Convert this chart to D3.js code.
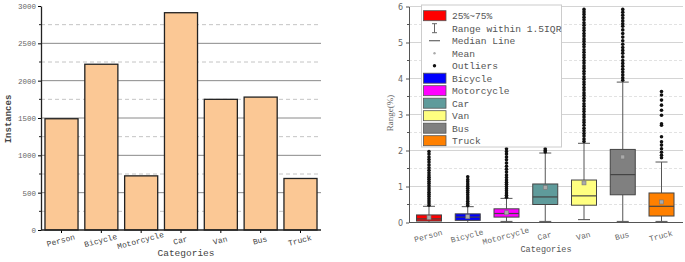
<!DOCTYPE html>
<html>
<head>
<meta charset="utf-8">
<script src="https://cdn.jsdelivr.net/npm/d3@7"></script>
<style>
  body { margin: 0; background: #fff; }
  svg { display: block; }
  text { font-family: "Liberation Mono", "DejaVu Sans Mono", monospace; }
</style>
</head>
<body>
<svg id="chart" width="685" height="262"></svg>
<script>
// ---- data ----
const categories = ["Person", "Bicycle", "Motorcycle", "Car", "Van", "Bus", "Truck"];
const instances = [1490, 2220, 725, 2910, 1750, 1780, 690];

const boxColors = ["#ff0000", "#0000ff", "#ff00ff", "#5f9b9b", "#ffff80", "#808080", "#ff8000"];
const whiskerLow = [0.0, 0.0, 0.03, 0.03, 0.08, 0.03, 0.03];
const q1 = [0.04, 0.06, 0.15, 0.5, 0.48, 0.77, 0.18];
const median = [0.1, 0.15, 0.25, 0.71, 0.74, 1.33, 0.45];
const q3 = [0.21, 0.24, 0.38, 1.07, 1.18, 2.03, 0.82];
const whiskerHigh = [0.45, 0.44, 0.67, 1.93, 2.2, 3.9, 1.68];
const means = [0.14, 0.16, 0.27, 0.97, 1.1, 1.82, 0.57];

const outPerson = [0.48, 0.54, 0.6, 0.66, 0.72, 0.78, 0.84, 0.9, 0.96, 1.02, 1.08, 1.14, 1.2, 1.26, 1.32, 1.38, 1.45, 1.52, 1.6, 1.68, 1.75, 1.82, 1.9, 1.97];
const outBicycle = [0.47, 0.53, 0.59, 0.65, 0.71, 0.77, 0.83, 0.89, 0.95, 1.01, 1.07, 1.13, 1.19, 1.27];
const outMotorcycle = [0.7, 0.76, 0.82, 0.88, 0.94, 1.0, 1.06, 1.12, 1.18, 1.25, 1.32, 1.4, 1.48, 1.56, 1.65, 1.74, 1.82, 1.9, 1.97, 2.05];
const outCar = [1.96, 2.0, 2.05];
const outVan = [2.25, 2.32, 2.4, 2.47, 2.55, 2.62, 2.7, 2.78, 2.85, 2.93, 3.0, 3.08, 3.15, 3.23, 3.3, 3.38, 3.45, 3.53, 3.6, 3.68, 3.75, 3.83, 3.9, 3.98, 4.05, 4.13, 4.2, 4.28, 4.35, 4.43, 4.5, 4.58, 4.65, 4.73, 4.8, 4.88, 4.95, 5.03, 5.1, 5.18, 5.25, 5.33, 5.4, 5.48, 5.55, 5.63, 5.7, 5.78, 5.85, 5.92];
const outBus = [3.95, 4.02, 4.1, 4.18, 4.26, 4.34, 4.42, 4.5, 4.6, 4.7, 4.78, 4.86, 4.95, 5.05, 5.15, 5.25, 5.35, 5.45, 5.52, 5.6, 5.68, 5.76, 5.84, 5.92];
const outTruck = [1.8, 1.87, 1.95, 2.05, 2.15, 2.24, 2.38, 2.7, 2.74, 2.98, 3.12, 3.26, 3.4, 3.54, 3.64];

const barTicks = [0, 500, 1000, 1500, 2000, 2500, 3000];
const barMinor = [250, 750, 1250, 1750, 2250, 2750];
const rangeTicks = [0, 1, 2, 3, 4, 5, 6];
const rangeMinor = [0.5, 1.5, 2.5, 3.5, 4.5, 5.5];

const legendLabels = ["25%~75%", "Range within 1.5IQR", "Median Line", "Mean", "Outliers",
  "Bicycle", "Motorcycle", "Car", "Van", "Bus", "Truck"];

const svg = d3.select("#chart");

// ================= left: bar chart =================
(function() {
  const x = d3.scaleBand().domain(categories).range([41, 321]).paddingInner(0.17).paddingOuter(0.1);
  const y = d3.scaleLinear().domain([0, 3000]).range([230, 6]);
  const g = svg.append("g");

  g.selectAll(".grid").data(barTicks.filter(d => d > 0 && d < 3000)).enter().append("line")
    .attr("x1", 41).attr("x2", 321).attr("y1", y).attr("y2", y)
    .attr("stroke", "#8a8a8a").attr("stroke-width", 1);
  g.selectAll(".gridm").data(barMinor).enter().append("line")
    .attr("x1", 41).attr("x2", 321).attr("y1", y).attr("y2", y)
    .attr("stroke", "#c4c4c4").attr("stroke-dasharray", "4,3");

  g.selectAll(".bar").data(instances).enter().append("rect")
    .attr("x", (d, i) => x(categories[i]))
    .attr("width", x.bandwidth())
    .attr("y", d => y(d))
    .attr("height", d => y(0) - y(d))
    .attr("fill", "#fbc895").attr("stroke", "#222").attr("stroke-width", 1.3);

  const yAxis = d3.axisLeft(y).tickValues(barTicks).tickFormat(d3.format("d")).tickSize(3).tickSizeOuter(0);
  const ya = g.append("g").attr("transform", "translate(41,0)").call(yAxis);
  ya.select(".domain").attr("stroke", "#222").attr("stroke-width", 1.3);
  ya.selectAll("text").attr("font-size", 7.5).attr("fill", "#666").attr("x", -5);
  g.selectAll(".ymin").data(barMinor).enter().append("line")
    .attr("x1", 39).attr("x2", 41).attr("y1", y).attr("y2", y).attr("stroke", "#222");

  const xAxis = d3.axisBottom(x).tickSize(3).tickSizeOuter(0);
  const xa = g.append("g").attr("transform", "translate(0,230)").call(xAxis);
  xa.select(".domain").remove();
  g.append("line").attr("x1", 41).attr("x2", 321).attr("y1", 230).attr("y2", 230)
    .attr("stroke", "#222").attr("stroke-width", 1.3);
  xa.selectAll("text").attr("font-size", 8).attr("fill", "#444")
    .attr("y", 0).attr("dy", 0)
    .attr("transform", "translate(0,13) rotate(-15)");

  g.append("text").attr("x", 186).attr("y", 256).attr("text-anchor", "middle")
    .attr("font-size", 9.5).attr("fill", "#444").text("Categories");
  g.append("text").attr("transform", "translate(11,119) rotate(-90)").attr("text-anchor", "middle")
    .attr("font-size", 9).attr("font-weight", "bold").attr("fill", "#444").text("Instances");
})();

// ================= right: box plot =================
(function() {
  const x = d3.scaleBand().domain(categories).range([409, 681.5]).paddingInner(0.355).paddingOuter(0.1935);
  const y = d3.scaleLinear().domain([0, 6]).range([222.5, 6.5]);
  const g = svg.append("g");
  const outliers = [outPerson, outBicycle, outMotorcycle, outCar, outVan, outBus, outTruck];

  g.selectAll(".grid").data(rangeTicks.filter(d => d > 0)).enter().append("line")
    .attr("x1", 409).attr("x2", 683).attr("y1", y).attr("y2", y)
    .attr("stroke", "#d4d4d4");
  g.selectAll(".gridm").data(rangeMinor).enter().append("line")
    .attr("x1", 409).attr("x2", 683).attr("y1", y).attr("y2", y)
    .attr("stroke", "#e2e2e2").attr("stroke-dasharray", "3,2");

  const cx = i => x(categories[i]) + x.bandwidth() / 2;
  const bw = x.bandwidth();

  // whiskers
  categories.forEach((c, i) => {
    const w = g.append("g").attr("stroke", "#555").attr("stroke-width", 1);
    w.append("line").attr("x1", cx(i)).attr("x2", cx(i)).attr("y1", y(whiskerLow[i])).attr("y2", y(q1[i]));
    w.append("line").attr("x1", cx(i)).attr("x2", cx(i)).attr("y1", y(q3[i])).attr("y2", y(whiskerHigh[i]));
    w.append("line").attr("x1", cx(i) - 6).attr("x2", cx(i) + 6).attr("y1", y(whiskerLow[i])).attr("y2", y(whiskerLow[i]));
    w.append("line").attr("x1", cx(i) - 6).attr("x2", cx(i) + 6).attr("y1", y(whiskerHigh[i])).attr("y2", y(whiskerHigh[i]));
  });

  // outliers
  outliers.forEach((arr, i) => {
    g.selectAll(".o" + i).data(arr).enter().append("circle")
      .attr("cx", cx(i)).attr("cy", d => y(d)).attr("r", 1.8).attr("fill", "#111");
  });

  // boxes
  g.selectAll(".box").data(categories).enter().append("rect")
    .attr("x", d => x(d)).attr("width", bw)
    .attr("y", (d, i) => y(q3[i])).attr("height", (d, i) => y(q1[i]) - y(q3[i]))
    .attr("fill", (d, i) => boxColors[i]).attr("stroke", "#444").attr("stroke-width", 1);
  g.selectAll(".med").data(median).enter().append("line")
    .attr("x1", (d, i) => x(categories[i])).attr("x2", (d, i) => x(categories[i]) + bw)
    .attr("y1", y).attr("y2", y).attr("stroke", "#444").attr("stroke-width", 1.2);
  g.selectAll(".mean").data(means).enter().append("rect")
    .attr("x", (d, i) => cx(i) - 2).attr("y", d => y(d) - 2).attr("width", 4).attr("height", 4)
    .attr("fill", "#aaa").attr("stroke", "#777").attr("stroke-width", 0.6);

  // axes
  const yAxis = d3.axisLeft(y).tickValues(rangeTicks).tickFormat(d3.format("d")).tickSize(3).tickSizeOuter(0);
  const ya = g.append("g").attr("transform", "translate(409,0)").call(yAxis);
  ya.select(".domain").attr("stroke", "#555");
  ya.selectAll(".tick line").attr("stroke", "#555");
  ya.selectAll("text").attr("font-size", 8).attr("fill", "#666").attr("x", -6)
    .style("font-family", "'DejaVu Sans', sans-serif");
  g.selectAll(".ymin").data(rangeMinor).enter().append("line")
    .attr("x1", 407).attr("x2", 409).attr("y1", y).attr("y2", y).attr("stroke", "#555");

  g.append("line").attr("x1", 409).attr("x2", 683).attr("y1", 222.5).attr("y2", 222.5)
    .attr("stroke", "#555").attr("stroke-width", 1);
  const xa = g.append("g").attr("transform", "translate(0,222.5)").call(d3.axisBottom(x).tickSize(0));
  xa.select(".domain").remove();
  xa.selectAll("text").attr("font-size", 8).attr("fill", "#666")
    .attr("y", 0).attr("dy", 0)
    .attr("transform", "translate(0,16) rotate(-15)");

  g.append("text").attr("x", 546).attr("y", 252).attr("text-anchor", "middle")
    .attr("font-size", 8.5).attr("fill", "#555").text("Categories");
  g.append("text").attr("transform", "translate(393,113) rotate(-90)").attr("text-anchor", "middle")
    .attr("font-size", 9).attr("fill", "#666").style("font-family", "'Liberation Serif', serif")
    .text("Range(%)");

  // legend
  const lg = g.append("g");
  lg.append("rect").attr("x", 421.5).attr("y", 5).attr("width", 140).attr("height", 142)
    .attr("fill", "#fff").attr("stroke", "#ccc");
  const rowY = i => 15.7 + i * 12.5;
  legendLabels.forEach((t, i) => {
    const yy = rowY(i);
    if (i === 0 || i >= 5) {
      const col = i === 0 ? boxColors[0] : boxColors[i - 4];
      lg.append("rect").attr("x", 423.5).attr("y", yy - 5).attr("width", 22.5).attr("height", 10)
        .attr("fill", col).attr("stroke", "#555").attr("stroke-width", 0.8);
    } else if (i === 1) {
      const l = lg.append("g").attr("stroke", "#666");
      l.append("line").attr("x1", 434.5).attr("x2", 434.5).attr("y1", yy - 4.5).attr("y2", yy + 4.5);
      l.append("line").attr("x1", 432).attr("x2", 437).attr("y1", yy - 4.5).attr("y2", yy - 4.5);
      l.append("line").attr("x1", 432).attr("x2", 437).attr("y1", yy + 4.5).attr("y2", yy + 4.5);
    } else if (i === 2) {
      lg.append("line").attr("x1", 429).attr("x2", 440).attr("y1", yy).attr("y2", yy)
        .attr("stroke", "#666").attr("stroke-width", 1.2);
    } else if (i === 3) {
      lg.append("circle").attr("cx", 434.5).attr("cy", yy).attr("r", 1.2).attr("fill", "#aaa");
    } else if (i === 4) {
      lg.append("circle").attr("cx", 434.5).attr("cy", yy).attr("r", 1.7).attr("fill", "#111");
    }
    lg.append("text").attr("x", 452).attr("y", yy + 3.5).attr("font-size", 9.6)
      .attr("fill", "#555").text(t);
  });
})();
</script>
</body>
</html>
